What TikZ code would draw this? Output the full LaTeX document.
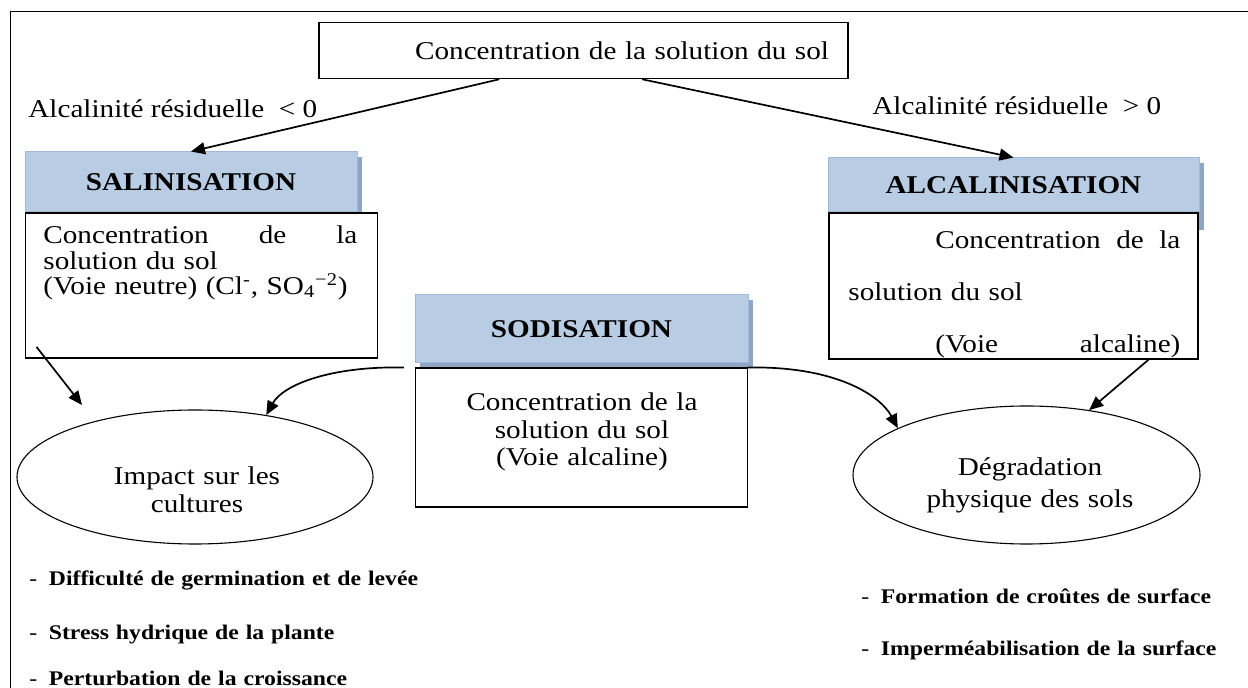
\documentclass[tikz,border=0pt]{standalone}
\usepackage{fontspec}
\setmainfont{Liberation Serif}[FakeStretch=1.14]
\usetikzlibrary{positioning, calc, arrows.meta, shapes.geometric, shadows}
\definecolor{headfill}{RGB}{184, 204, 228}
\definecolor{headline}{RGB}{160, 186, 220}
\definecolor{headshadow}{RGB}{143, 165, 196}

\begin{document}
\begin{tikzpicture}[
    x=0.5pt, y=-0.5pt,
    headbox/.style={draw=headline, line width=0.5pt, fill=headfill, inner sep=0pt,
      font=\fontsize{12.8}{14}\selectfont\bfseries,
      drop shadow={shadow xshift=2.5pt, shadow yshift=-2.5pt, fill=headshadow, opacity=1}},
    textbox/.style={draw=black, line width=0.7pt, fill=white, inner sep=0pt},
    bubble/.style={draw=black, line width=0.55pt, ellipse, inner sep=0pt},
    body/.style={inner sep=0pt, font=\fontsize{12.8}{14}\selectfont},
    bullets/.style={inner sep=0pt, text width=300pt, align=left},
    arrow/.style={-{Triangle[length=7pt, width=6pt]}, line width=0.85pt}
  ]
  \useasboundingbox (0,0) rectangle (1248,688);
  \clip (0,0) rectangle (1248,688);
  \fill[white] (0,0) rectangle (1248,688);
  \draw[line width=0.5pt] (10,12) rectangle (1300,760);

  % top
  \node[textbox, line width=0.8pt, minimum width=264.5pt, minimum height=28pt,
    text width=245.5pt, inner xsep=9.5pt, align=right, font=\fontsize{12.8}{14}\selectfont]
    (conc) at (583.5,50.5) {Concentration de la solution du sol};
  \node[body, anchor=base west] (neg) at (28,118) {Alcalinité résiduelle\ \ < 0};
  \node[body, anchor=base west] (pos) at (872,115) {Alcalinité résiduelle\ \ > 0};

  % three headers
  \node[headbox, minimum width=166pt, minimum height=30pt] (sal) at (191,182) {SALINISATION};
  \node[headbox, minimum width=185.5pt, minimum height=27pt,
    drop shadow={shadow xshift=2.5pt, shadow yshift=-9pt, fill=headshadow, opacity=1}]
    (alc) at (1013.5,185) {ALCALINISATION};
  \node[headbox, minimum width=166.5pt, minimum height=34pt] (sod) at (581.5,329) {SODISATION};

  % boxes under the headers
  \node[textbox, minimum width=176pt, minimum height=72.5pt, below right=0pt and 0pt of sal.south west] (salbox) {};
  \node[textbox, minimum width=184.5pt, minimum height=73pt, below=0pt of alc] (alcbox) {};
  \node[textbox, minimum width=166pt, minimum height=69.5pt, below=2pt of sod] (sodbox) {};

  \node[body, text width=157pt, anchor=base west, font=\fontsize{12.8}{12.6}\selectfont] (saltxt) at (43,244)
    {Concentration\hfill de\hfill la\\solution du sol\\(Voie neutre) (Cl\textsuperscript{-}, SO\textsubscript{4}\textsuperscript{−2})};
  \begin{scope}
    \clip (alcbox.south west) rectangle (alcbox.north east);
    \node[body, text width=166pt, anchor=base west, font=\fontsize{12.8}{26}\selectfont] (alctxt) at (848,249)
      {\hspace*{43.5pt}Concentration\hfill de\hfill la\\solution du sol\\\hspace*{43.5pt}(Voie\hfill alcaline)};
  \end{scope}
  \node[body, text width=166pt, align=center, anchor=base, font=\fontsize{12.8}{13.75}\selectfont] (sodtxt) at (582,411)
    {Concentration de la\\solution du sol\\(Voie alcaline)};

  % effects
  \node[bubble, minimum width=178pt, minimum height=67pt] (imp) at (195,477) {};
  \node[body, text width=150pt, align=center, anchor=base] (imptxt) at (197,485) {Impact sur les\\cultures};
  \node[bubble, minimum width=173.5pt, minimum height=69pt] (deg) at (1026.5,475) {};
  \node[body, text width=150pt, align=center, anchor=base, font=\fontsize{12.8}{16}\selectfont] (degtxt) at (1030,476)
    {Dégradation\\physique des sols};

  \node[bullets, anchor=base west, font=\fontsize{10.4}{27}\selectfont] (implist) at (29,586)
    {-\hspace{5.8pt}\textbf{Difficulté de germination et de levée}\\
     -\hspace{5.8pt}\textbf{Stress hydrique de la plante}\\[-4pt]
     -\hspace{5.8pt}\textbf{Perturbation de la croissance}};
  \node[bullets, anchor=base west, font=\fontsize{10.4}{26}\selectfont] (deglist) at (861,604)
    {-\hspace{5.8pt}\textbf{Formation de croûtes de surface}\\
     -\hspace{5.8pt}\textbf{Imperméabilisation de la surface}};

  % connectors
  \coordinate (concl) at ($(conc.south west)+(181,0)$);
  \coordinate (concr) at ($(conc.south west)+(324,0)$);
  \coordinate (salout) at ($(salbox.south west)+(12,-12)$);
  \coordinate (impin) at (82,405);
  \coordinate (alcout) at ($(alcbox.south west)+(320,0)$);
  \coordinate (sodl) at ($(sodbox.north west)+(-11,0)$);

  \draw [arrow] (concl) -- (sal.north);
  \draw [arrow] (concr) -- (alc.north);
  \draw [arrow] (salout) -- (impin);
  \draw [arrow] (alcout) -- (deg.46);
  \draw [arrow] (sodl) .. controls (330,366) and (283,385) .. (imp.41);
  \draw [arrow] (sodbox.north east) .. controls (835,366) and (880,395) .. (deg.160);
\end{tikzpicture}
\end{document}
